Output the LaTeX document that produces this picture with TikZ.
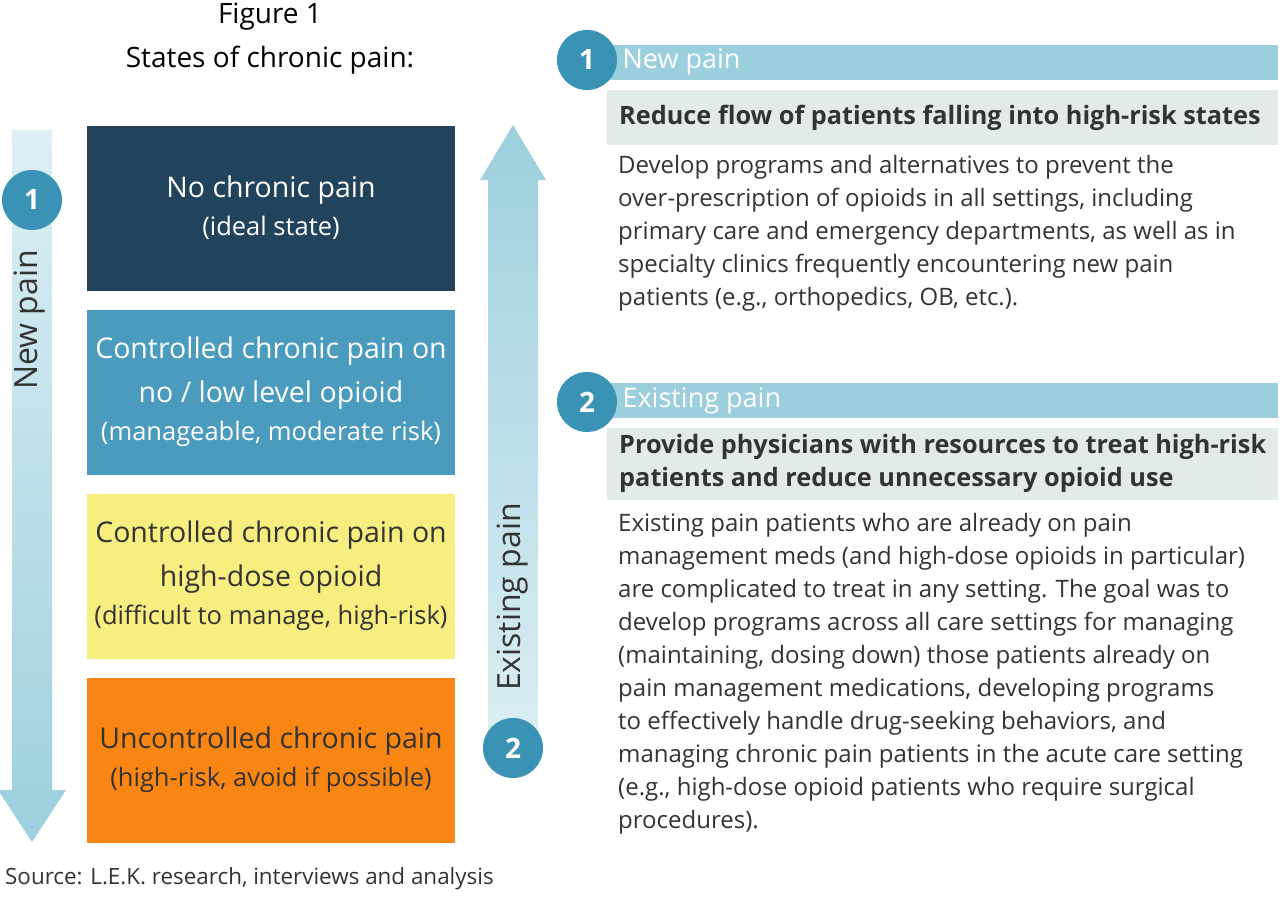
\documentclass[tikz,border=0pt]{standalone}
\usepackage{fontspec}
\setmainfont{Open Sans}
\definecolor{teal}{HTML}{3A93B4}
\definecolor{lblue}{HTML}{9CCFDD}
\definecolor{pale}{HTML}{DDEFF4}
\definecolor{navy}{HTML}{22435C}
\definecolor{mblue}{HTML}{4A9BBD}
\definecolor{yel}{HTML}{F7EE7F}
\definecolor{ora}{HTML}{F98512}
\definecolor{gbox}{HTML}{E3EBE8}
\definecolor{txt}{HTML}{333333}
\begin{document}
\begin{tikzpicture}[x=1pt,y=-1pt,
  num/.style={circle,fill=teal,minimum size=60pt,inner sep=0,text=white,font=\fontsize{28}{28}\selectfont\bfseries},
  state/.style={minimum width=368pt,minimum height=165pt,inner sep=0,align=center,font=\fontsize{28.5}{44}\selectfont},
  body/.style={anchor=north west,align=left,inner sep=0,text=txt,font=\fontsize{24}{33}\selectfont},
  head/.style={anchor=west,inner sep=0,text=txt,font=\fontsize{25.3}{33}\selectfont\bfseries},
  bar/.style={fill=lblue}]
\useasboundingbox (0,0) rectangle (1280,900);
\node[text=black,font=\fontsize{28}{28}\selectfont] (t1) at (270,17) {Figure 1};
\node[text=black,font=\fontsize{28}{28}\selectfont] (t2) at (270,60) {States of chronic pain:};
% left arrow
\shade[top color=pale,bottom color=lblue] (12,130) -- (52,130) -- (52,790) -- (66,790) -- (32,842) -- (-2,790) -- (12,790) -- cycle;
\node[num] (n1) at (32,200) {1};
\node[rotate=90,text=txt,font=\fontsize{32}{32}\selectfont] (np) at (30,320) {New pain};
% right arrow
\shade[top color=lblue,bottom color=pale] (488,760) -- (538,760) -- (538,180) -- (546,180) -- (513,125) -- (480,180) -- (488,180) -- cycle;
\node[rotate=90,text=txt,font=\fontsize{32}{32}\selectfont] (ep) at (513,597) {Existing pain};
\node[num] (n2) at (513,748) {2};
% states
\node[state,fill=navy,text=white] (s1) at (271,208) {No chronic pain\\[-6pt]{\fontsize{25.5}{40}\selectfont(ideal state)}};
\node[state,fill=mblue,text=white] (s2) at (271,392) {Controlled chronic pain on\\no / low level opioid\\[-6pt]{\fontsize{25.5}{40}\selectfont(manageable, moderate risk)}};
\node[state,fill=yel,text=txt] (s3) at (271,576) {Controlled chronic pain on\\high-dose opioid\\[-6pt]{\fontsize{25.5}{40}\selectfont(difficult to manage, high-risk)}};
\node[state,fill=ora,text=txt] (s4) at (271,760) {Uncontrolled chronic pain\\[-6pt]{\fontsize{25.5}{40}\selectfont(high-risk, avoid if possible)}};
% right panel 1
\fill[bar] (605,45) rectangle (1278,80);
\fill[gbox] (607,90) rectangle (1278,145);
\node[num] (r1) at (587,60) {1};
\node[anchor=west,text=white,font=\fontsize{27}{27}\selectfont] (h1) at (619,62) {New pain};
\node[head] (g1) at (619,118) {Reduce flow of patients falling into high-risk states};
\node[body] (p1) at (618,155) {Develop programs and alternatives to prevent the\\over-prescription of opioids in all settings, including\\primary care and emergency departments, as well as in\\specialty clinics frequently encountering new pain\\patients (e.g., orthopedics, OB, etc.).};
% right panel 2
\fill[bar] (605,383) rectangle (1278,418);
\fill[gbox] (607,428) rectangle (1278,500);
\node[num] (r2) at (587,402) {2};
\node[anchor=west,text=white,font=\fontsize{27}{27}\selectfont] (h2) at (619,401) {Existing pain};
\node[head,align=left] (g2) at (619,463) {Provide physicians with resources to treat high-risk\\patients and reduce unnecessary opioid use};
\node[body] (p2) at (618,513) {Existing pain patients who are already on pain\\management meds (and high-dose opioids in particular)\\are complicated to treat in any setting. The goal was to\\develop programs across all care settings for managing\\(maintaining, dosing down) those patients already on\\pain management medications, developing programs\\to effectively handle drug-seeking behaviors, and\\managing chronic pain patients in the acute care setting\\(e.g., high-dose opioid patients who require surgical\\procedures).};
\node[anchor=west,inner sep=0,text=txt,font=\fontsize{22.4}{23}\selectfont] (src) at (5,879) {Source: L.E.K. research, interviews and analysis};
\end{tikzpicture}
\end{document}
